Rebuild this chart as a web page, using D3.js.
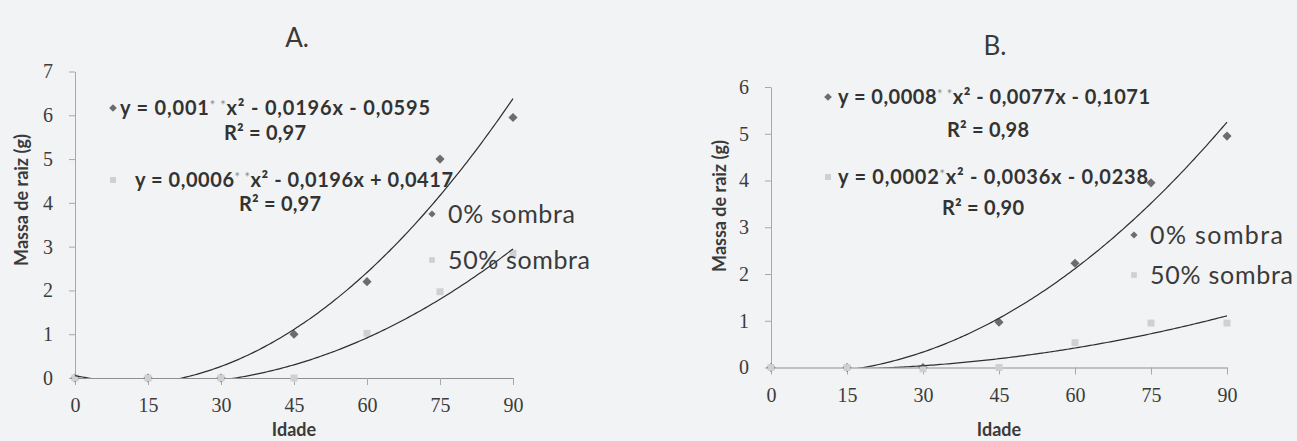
<!DOCTYPE html>
<html>
<head>
<meta charset="utf-8">
<script src="https://cdn.jsdelivr.net/npm/d3@7"></script>
<style>
  body { margin: 0; background: #f2f3f4; }
  svg { display: block; }
  .tick text { font-family: "Liberation Serif", serif; fill: #3c3c3c; }
</style>
</head>
<body>
<svg id="chart" width="1297" height="441"></svg>
<script>
// dados
const idade = [0, 15, 30, 45, 60, 75, 90];
const sombra0A = [0, 0, 0, 1.0, 2.2, 5.0, 5.95];
const sombra50A = [0, 0, 0, 0, 1.02, 1.97, 2.85];
const sombra0B = [0, 0, 0, 0.97, 2.23, 3.95, 4.95];
const sombra50B = [0, 0, -0.03, 0, 0.53, 0.95, 0.95];
const serieNomes = ["0% sombra", "50% sombra"];
const eqA = [["y = 0,001", "* *", "x\u00B2 - 0,0196x - 0,0595", "R\u00B2 = 0,97"],
             ["y = 0,0006", "* *", "x\u00B2 - 0,0196x + 0,0417", "R\u00B2 = 0,97"]];
const eqB = [["y = 0,0008", "* *", "x\u00B2 - 0,0077x - 0,1071", "R\u00B2 = 0,98"],
             ["y = 0,0002", "*", "x\u00B2 - 0,0036x - 0,0238", "R\u00B2 = 0,90"]];

const cor0 = "#6c6c6c", cor50 = "#d0d0d0";
const svg = d3.select("#chart");

// ajuste polinomial de 2o grau (minimos quadrados), como a linha de tendencia do Excel
function fitQuad(xs, ys) {
  let s = [0, 0, 0, 0, 0], t = [0, 0, 0];
  xs.forEach((x, i) => {
    for (let k = 0; k < 5; k++) s[k] += Math.pow(x, k);
    for (let k = 0; k < 3; k++) t[k] += Math.pow(x, k) * ys[i];
  });
  let m = [[s[4], s[3], s[2], t[2]], [s[3], s[2], s[1], t[1]], [s[2], s[1], s[0], t[0]]];
  for (let i = 0; i < 3; i++) {
    for (let j = i + 1; j < 3; j++) {
      let f = m[j][i] / m[i][i];
      for (let k = i; k < 4; k++) m[j][k] -= f * m[i][k];
    }
  }
  let r = [0, 0, 0];
  for (let i = 2; i >= 0; i--) {
    let v = m[i][3];
    for (let k = i + 1; k < 3; k++) v -= m[i][k] * r[k];
    r[i] = v / m[i][i];
  }
  return x => r[0] * x * x + r[1] * x + r[2];
}

function marker(sym, size) {
  return d3.symbol().type(d3.symbolSquare).size(size)();
}

function drawPanel(p) {
  const x = d3.scaleLinear().domain([0, 90]).range([p.left, p.right]);
  const y = d3.scaleLinear().domain([0, p.yMax]).range([p.bottom, p.top]);
  const g = svg.append("g");

  g.append("text").attr("x", p.titleX).attr("y", p.titleY)
    .attr("text-anchor", "middle").attr("font-family", "Lato").attr("font-size", 26)
    .attr("fill", "#3a3a3a").text(p.title);

  const ay = g.append("g").attr("transform", `translate(${p.left},0)`)
    .call(d3.axisLeft(y).ticks(p.yMax).tickSize(6).tickSizeOuter(0).tickPadding(16));
  ay.select(".domain").attr("stroke", "#a8a8a8");
  ay.selectAll(".tick line").attr("stroke", "#a8a8a8");
  ay.selectAll(".tick text").attr("font-size", 20);

  const ax = g.append("g").attr("transform", `translate(0,${p.bottom})`)
    .call(d3.axisBottom(x).tickValues(idade).tickSize(7).tickSizeOuter(0).tickPadding(13));
  ax.select(".domain").attr("stroke", "#909090");
  ax.selectAll(".tick line").attr("stroke", "#a8a8a8");
  ax.selectAll(".tick text").attr("font-size", 20);

  g.append("text").attr("transform", `translate(${p.yLabelX},${p.yLabelY}) rotate(-90)`)
    .attr("text-anchor", "middle").attr("font-family", "Lato").attr("font-weight", "bold")
    .attr("font-size", 18).attr("fill", "#3a3a3a").text("Massa de raiz (g)");
  g.append("text").attr("x", (p.left + p.right) / 2).attr("y", p.xLabelY)
    .attr("text-anchor", "middle").attr("font-family", "Lato").attr("font-weight", "bold")
    .attr("font-size", 18).attr("fill", "#3a3a3a").text("Idade");

  const clipId = "clip" + p.title[0];
  svg.append("clipPath").attr("id", clipId).append("rect")
    .attr("x", p.left).attr("y", p.top - 20).attr("width", p.right - p.left + 2)
    .attr("height", p.bottom - p.top + 20);

  const series = [{ vals: p.s0, cor: cor0, sym: "diamond" }, { vals: p.s50, cor: cor50, sym: "square" }];
  const rot = s => s.sym === "diamond" ? " rotate(45)" : "";

  series.forEach(s => {
    g.selectAll(null).data(idade).join("path")
      .attr("d", marker(s.sym, s.sym === "diamond" ? 42 : 48))
      .attr("transform", (d, i) => `translate(${x(d)},${y(s.vals[i])})` + rot(s))
      .attr("fill", s.cor);
  });

  series.forEach(s => {
    const f = fitQuad(idade, s.vals);
    const xs = d3.range(0, 90.01, 0.5);
    g.append("path").attr("clip-path", `url(#${clipId})`)
      .attr("d", d3.line().x(d => x(d)).y(d => y(f(d)))(xs))
      .attr("fill", "none").attr("stroke", "#2e2e2e").attr("stroke-width", 1.2);
  });

  // rotulos das equacoes
  p.eqs.forEach((e, i) => {
    const pos = p.eqPos[i];
    const s = series[i];
    g.append("path").attr("d", marker(s.sym, s.sym === "diamond" ? 30 : 36))
      .attr("transform", `translate(${pos.mx},${pos.y})` + rot(s))
      .attr("fill", s.cor);
    const t = g.append("text").attr("x", pos.tx).attr("y", pos.y + 7)
      .attr("textLength", pos.w).attr("lengthAdjust", "spacing")
      .attr("font-family", "Lato").attr("font-weight", "bold").attr("font-size", 20).attr("fill", "#333");
    t.append("tspan").text(e[0]);
    t.append("tspan").attr("dy", -5).attr("font-size", 13).attr("fill", "#8a8a8a").attr("font-weight", "normal").text(e[1]);
    t.append("tspan").attr("dy", 5).text(e[2]);
    g.append("text").attr("x", pos.rx - 41).attr("y", pos.ry + 7)
      .attr("textLength", 82).attr("lengthAdjust", "spacing")
      .attr("font-family", "Lato").attr("font-weight", "bold").attr("font-size", 20).attr("fill", "#333").text(e[3]);
  });

  // legenda
  serieNomes.forEach((nome, i) => {
    const s = series[i];
    const ly = p.legY[i];
    g.append("path").attr("d", marker(s.sym, s.sym === "diamond" ? 26 : 32))
      .attr("transform", `translate(${p.legX - 16},${ly})` + rot(s))
      .attr("fill", s.cor);
    g.append("text").attr("x", p.legX).attr("y", ly + 9)
      .attr("textLength", p.legW[i]).attr("lengthAdjust", "spacing")
      .attr("font-family", "Lato").attr("font-size", 25).attr("fill", "#3a3a3a").text(nome);
  });
}

drawPanel({
  title: "A.", titleX: 297, titleY: 47,
  left: 75, right: 513, top: 71.5, bottom: 378, yMax: 7,
  yLabelX: 28, yLabelY: 200, xLabelY: 436,
  s0: sombra0A, s50: sombra50A, eqs: eqA,
  eqPos: [{ mx: 113, tx: 120, w: 310, y: 108, rx: 265, ry: 133 }, { mx: 113, tx: 135, w: 318, y: 180, rx: 280, ry: 204 }],
  legX: 448, legY: [214, 260], legW: [127, 142]
});

drawPanel({
  title: "B.", titleX: 995, titleY: 55,
  left: 771, right: 1227, top: 87, bottom: 367.5, yMax: 6,
  yLabelX: 726, yLabelY: 206, xLabelY: 436,
  s0: sombra0B, s50: sombra50B, eqs: eqB,
  eqPos: [{ mx: 828, tx: 838, w: 312, y: 97, rx: 988, ry: 130 }, { mx: 828, tx: 838, w: 310, y: 177, rx: 983, ry: 208 }],
  legX: 1150, legY: [235, 275], legW: [133, 143]
});
</script>
</body>
</html>
